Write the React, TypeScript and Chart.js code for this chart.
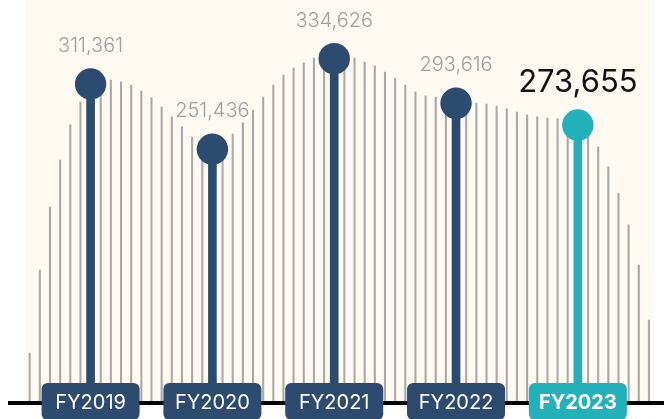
import React, { useEffect, useRef } from "react";
import { Chart, registerables } from "chart.js";

Chart.register(...registerables);

// Fiscal years and their totals
const years = ["FY2019", "FY2020", "FY2021", "FY2022", "FY2023"];
const values = [311361, 251436, 334626, 293616, 273655];
const valueLabels = ["311,361", "251,436", "334,626", "293,616", "273,655"];
const highlightIndex = 4;

// Position of each year among the 62 backdrop slots
const yearSlots = [6, 18, 30, 42, 54];

// Decorative backdrop "comb" (relative height, % of plot height)
const backdrop = [
  12.4, 33.0, 48.6, 60.3, 69.0, 74.7, 77.9, 79.9, 80.1, 79.7,
  78.9, 77.4, 75.7, 73.4, 71.0, 68.5, 66.0, 65.0, 64.5, 65.3,
  66.7, 69.5, 72.7, 75.9, 78.9, 81.4, 83.1, 84.4, 85.6, 86.4,
  86.8, 86.4, 85.6, 84.6, 83.6, 82.1, 80.6, 78.9, 77.2, 76.2,
  75.9, 75.4, 75.2, 74.7, 74.4, 74.2, 73.7, 73.0, 72.2, 71.5,
  71.0, 70.7, 70.5, 70.0, 69.2, 67.5, 63.5, 58.6, 52.1, 44.2,
  34.2, 20.6,
];

const NAVY = "#2D4A6F";
const TEAL = "#22B0BA";
const CREAM = "#FEF9F1";
const FONT = "Inter, 'Noto Sans', sans-serif";

export default function App() {
  const ref = useRef<HTMLCanvasElement | null>(null);

  useEffect(() => {
    document.body.style.margin = "0";
    const canvas = ref.current;
    if (!canvas) return;

    const slotLabels = backdrop.map((_, i) => {
      const k = yearSlots.indexOf(i);
      return k >= 0 ? years[k] : "";
    });
    const stemData: (number | null)[] = backdrop.map(() => null);
    const stemColors: string[] = backdrop.map(() => NAVY);
    yearSlots.forEach((s, k) => {
      stemData[s] = values[k];
      stemColors[s] = k === highlightIndex ? TEAL : NAVY;
    });

    const decor = {
      id: "decor",
      beforeDraw(chart: any) {
        const { ctx, chartArea: a } = chart;
        ctx.save();
        ctx.fillStyle = CREAM;
        ctx.fillRect(a.left, 0, a.right - a.left, a.bottom);
        ctx.restore();
      },
      afterDraw(chart: any) {
        const { ctx, chartArea: a } = chart;
        const xs = chart.scales.x;
        const ys = chart.scales.y;
        ctx.save();
        // baseline
        ctx.fillStyle = "#000";
        ctx.fillRect(8, a.bottom - 2, chart.width - 8, 4);

        years.forEach((yr, k) => {
          const px = xs.getPixelForValue(yearSlots[k]);
          const py = ys.getPixelForValue(values[k]);
          const hi = k === highlightIndex;
          // value label
          ctx.textAlign = "center";
          ctx.textBaseline = "middle";
          if (hi) {
            ctx.fillStyle = "#111";
            ctx.font = "400 31px " + FONT;
            ctx.fillText(valueLabels[k], px, py - 42);
          } else {
            ctx.fillStyle = "#9E9E9E";
            ctx.font = "300 20px " + FONT;
            ctx.fillText(valueLabels[k], px, py - 38);
          }
          // year box
          const w = 98, h = 37, r = 6;
          const bx = px - w / 2, by = a.bottom - 20;
          ctx.fillStyle = hi ? TEAL : NAVY;
          ctx.beginPath();
          ctx.roundRect(bx, by, w, h, r);
          ctx.fill();
          ctx.fillStyle = "#fff";
          ctx.font = (hi ? "700" : "400") + " 20px " + FONT;
          ctx.fillText(yr, px, by + 20);
        });
        ctx.restore();
      },
    };

    const chart = new Chart(canvas, {
      type: "bar",
      data: {
        labels: slotLabels,
        datasets: [
          {
            type: "line",
            data: stemData,
            yAxisID: "y",
            showLine: false,
            pointRadius: 15.7,
            pointHoverRadius: 15.7,
            pointBorderWidth: 0,
            pointBackgroundColor: stemColors,
            pointBorderColor: stemColors,
            clip: false,
            order: 1,
          } as any,
          {
            type: "bar",
            data: stemData,
            yAxisID: "y",
            backgroundColor: stemColors,
            barThickness: 8,
            grouped: false,
            order: 2,
          } as any,
          {
            type: "bar",
            data: backdrop,
            yAxisID: "yBg",
            backgroundColor: "#A8A8A8",
            barThickness: 1.4,
            grouped: false,
            order: 3,
          } as any,
        ],
      },
      options: {
        animation: false,
        responsive: true,
        maintainAspectRatio: false,
        events: [],
        layout: { autoPadding: false, padding: { left: 24.6, right: 10, top: 0, bottom: 16 } },
        plugins: { legend: { display: false }, tooltip: { enabled: false } },
        scales: {
          x: { type: "category", display: false, offset: true, grid: { display: false } },
          y: { display: false, min: 18400, max: 388500 },
          yBg: { display: false, min: 0, max: 100 },
        },
      },
      plugins: [decor],
    });
    return () => chart.destroy();
  }, []);

  return (
    <div style={{ width: 664, height: 419, position: "relative" }}>
      <canvas ref={ref} />
    </div>
  );
}
